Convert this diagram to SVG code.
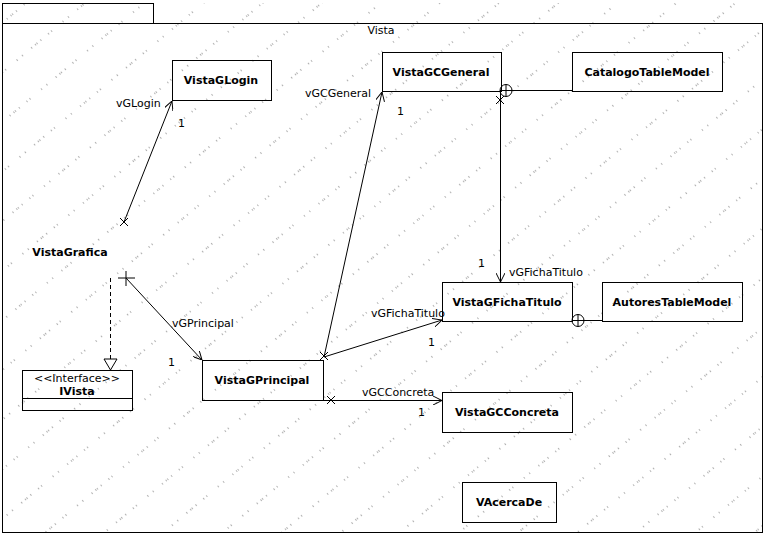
<svg xmlns="http://www.w3.org/2000/svg" width="766" height="536" viewBox="0 0 766 536">
  <defs>
    <style>
      .box { fill: none; stroke: #000; stroke-width: 1; }
      .cls { font-family: "DejaVu Sans", "Liberation Sans", sans-serif; font-size: 11px; font-weight: bold; text-anchor: middle; fill: #000; }
      .lbl { font-family: "DejaVu Sans", "Liberation Sans", sans-serif; font-size: 11px; fill: #000; }
      .ln { fill: none; stroke: #000; stroke-width: 1; }
      .dash { fill: none; stroke: #000; stroke-width: 1; stroke-dasharray: 4 3; }
      .hatch { stroke: #666; stroke-width: 1; stroke-dasharray: 1 4 1 9 1 3 1 14 1 6 1 11; }
    </style>
    <pattern id="bgHatch" width="60" height="38" patternUnits="userSpaceOnUse" patternTransform="rotate(-40)">
      <line class="hatch" x1="0" y1="19" x2="60" y2="19"/>
    </pattern>
    <marker id="open" viewBox="0 0 10 10" refX="10" refY="5" markerWidth="9" markerHeight="9" orient="auto" markerUnits="userSpaceOnUse">
      <path d="M0,0 L10,5 L0,10" fill="none" stroke="#000" stroke-width="1.1"/>
    </marker>
  </defs>

  <rect width="766" height="536" fill="#fff"/>
  <rect x="2" y="3" width="761" height="530" fill="url(#bgHatch)"/>

  <!-- package frame -->
  <g id="pkg-vista">
    <rect class="box" x="2.5" y="3.5" width="151" height="20"/>
    <rect class="box" x="2.5" y="23.5" width="760" height="509"/>
    <text class="lbl" x="381" y="34" text-anchor="middle">Vista</text>
  </g>

  <!-- connectors -->
  <g id="connectors">
    <!-- VistaGrafica -> VistaGLogin -->
    <line class="ln" x1="124" y1="222" x2="172" y2="101" marker-end="url(#open)"/>
    <path class="ln" d="M120,218 L128,226 M128,218 L120,226"/>
    <text class="lbl" x="116" y="107">vGLogin</text>
    <text class="lbl" x="178" y="127">1</text>

    <!-- VistaGrafica -> VistaGPrincipal -->
    <line class="ln" x1="126" y1="278" x2="202" y2="360" marker-end="url(#open)"/>
    <path class="ln" d="M118,278 L135,278 M126,271 L126,286"/>
    <text class="lbl" x="172" y="327">vGPrincipal</text>
    <text class="lbl" x="168" y="366">1</text>

    <!-- VistaGrafica realizes IVista -->
    <line class="dash" x1="110.5" y1="278" x2="110.5" y2="359"/>
    <path d="M104,359 L117,359 L110.5,370 Z" fill="#fff" stroke="#000" stroke-width="1"/>

    <!-- VistaGPrincipal -> VistaGCGeneral -->
    <line class="ln" x1="324" y1="357" x2="382" y2="92" marker-end="url(#open)"/>
    <path class="ln" d="M320,352 L328,360 M328,352 L320,360"/>
    <text class="lbl" x="305" y="97">vGCGeneral</text>
    <text class="lbl" x="397" y="115">1</text>

    <!-- VistaGPrincipal -> VistaGFichaTitulo -->
    <line class="ln" x1="324" y1="357" x2="442" y2="320" marker-end="url(#open)"/>
    <text class="lbl" x="371" y="317">vGFichaTitulo</text>
    <text class="lbl" x="428" y="346">1</text>

    <!-- VistaGPrincipal -> VistaGCConcreta -->
    <line class="ln" x1="323" y1="400.5" x2="442" y2="400.5" marker-end="url(#open)"/>
    <path class="ln" d="M327,396 L335,404 M335,396 L327,404"/>
    <text class="lbl" x="362" y="396">vGCConcreta</text>
    <text class="lbl" x="418" y="416">1</text>

    <!-- VistaGCGeneral -> VistaGFichaTitulo -->
    <line class="ln" x1="500.5" y1="92" x2="500.5" y2="282" marker-end="url(#open)"/>
    <path class="ln" d="M496,96 L504,104 M504,96 L496,104"/>
    <text class="lbl" x="509" y="276">vGFichaTitulo</text>
    <text class="lbl" x="478" y="267">1</text>

    <!-- CatalogoTableModel nested in VistaGCGeneral -->
    <line class="ln" x1="512" y1="90.5" x2="572" y2="90.5"/>
    <circle class="ln" cx="506" cy="90.5" r="6"/>
    <path class="ln" d="M500,90.5 L512,90.5 M506,84.5 L506,96.5"/>

    <!-- AutoresTableModel nested in VistaGFichaTitulo -->
    <line class="ln" x1="584" y1="320.5" x2="602" y2="320.5"/>
    <circle class="ln" cx="578" cy="320.5" r="6"/>
    <path class="ln" d="M572,320.5 L584,320.5 M578,314.5 L578,326.5"/>
  </g>

  <!-- classes -->
  <g id="VistaGLogin">
    <rect class="box" x="172.5" y="60.5" width="99" height="40"/>
    <text class="cls" x="221" y="84">VistaGLogin</text>
  </g>

  <g id="VistaGCGeneral">
    <rect class="box" x="382.5" y="52.5" width="119" height="39"/>
    <text class="cls" x="441" y="76">VistaGCGeneral</text>
  </g>

  <g id="CatalogoTableModel">
    <rect class="box" x="572.5" y="52.5" width="150" height="39"/>
    <text class="cls" x="647" y="76">CatalogoTableModel</text>
  </g>

  <g id="VistaGrafica">
    <text class="cls" x="70" y="256">VistaGrafica</text>
  </g>

  <g id="IVista">
    <rect class="box" x="22.5" y="370.5" width="110" height="40"/>
    <line class="ln" x1="22.5" y1="398.5" x2="132.5" y2="398.5"/>
    <text class="lbl" x="77" y="382" text-anchor="middle">&lt;&lt;Interface&gt;&gt;</text>
    <text class="cls" x="77" y="395">IVista</text>
  </g>

  <g id="VistaGPrincipal">
    <rect class="box" x="202.5" y="360.5" width="121" height="40"/>
    <text class="cls" x="262" y="384">VistaGPrincipal</text>
  </g>

  <g id="VistaGFichaTitulo">
    <rect class="box" x="442.5" y="282.5" width="130" height="39"/>
    <text class="cls" x="507" y="306">VistaGFichaTitulo</text>
  </g>

  <g id="AutoresTableModel">
    <rect class="box" x="602.5" y="282.5" width="140" height="39"/>
    <text class="cls" x="672" y="306">AutoresTableModel</text>
  </g>

  <g id="VistaGCConcreta">
    <rect class="box" x="442.5" y="392.5" width="130" height="40"/>
    <text class="cls" x="507" y="416">VistaGCConcreta</text>
  </g>

  <g id="VAcercaDe">
    <rect class="box" x="462.5" y="482.5" width="94" height="40"/>
    <text class="cls" x="509" y="506">VAcercaDe</text>
  </g>
</svg>
